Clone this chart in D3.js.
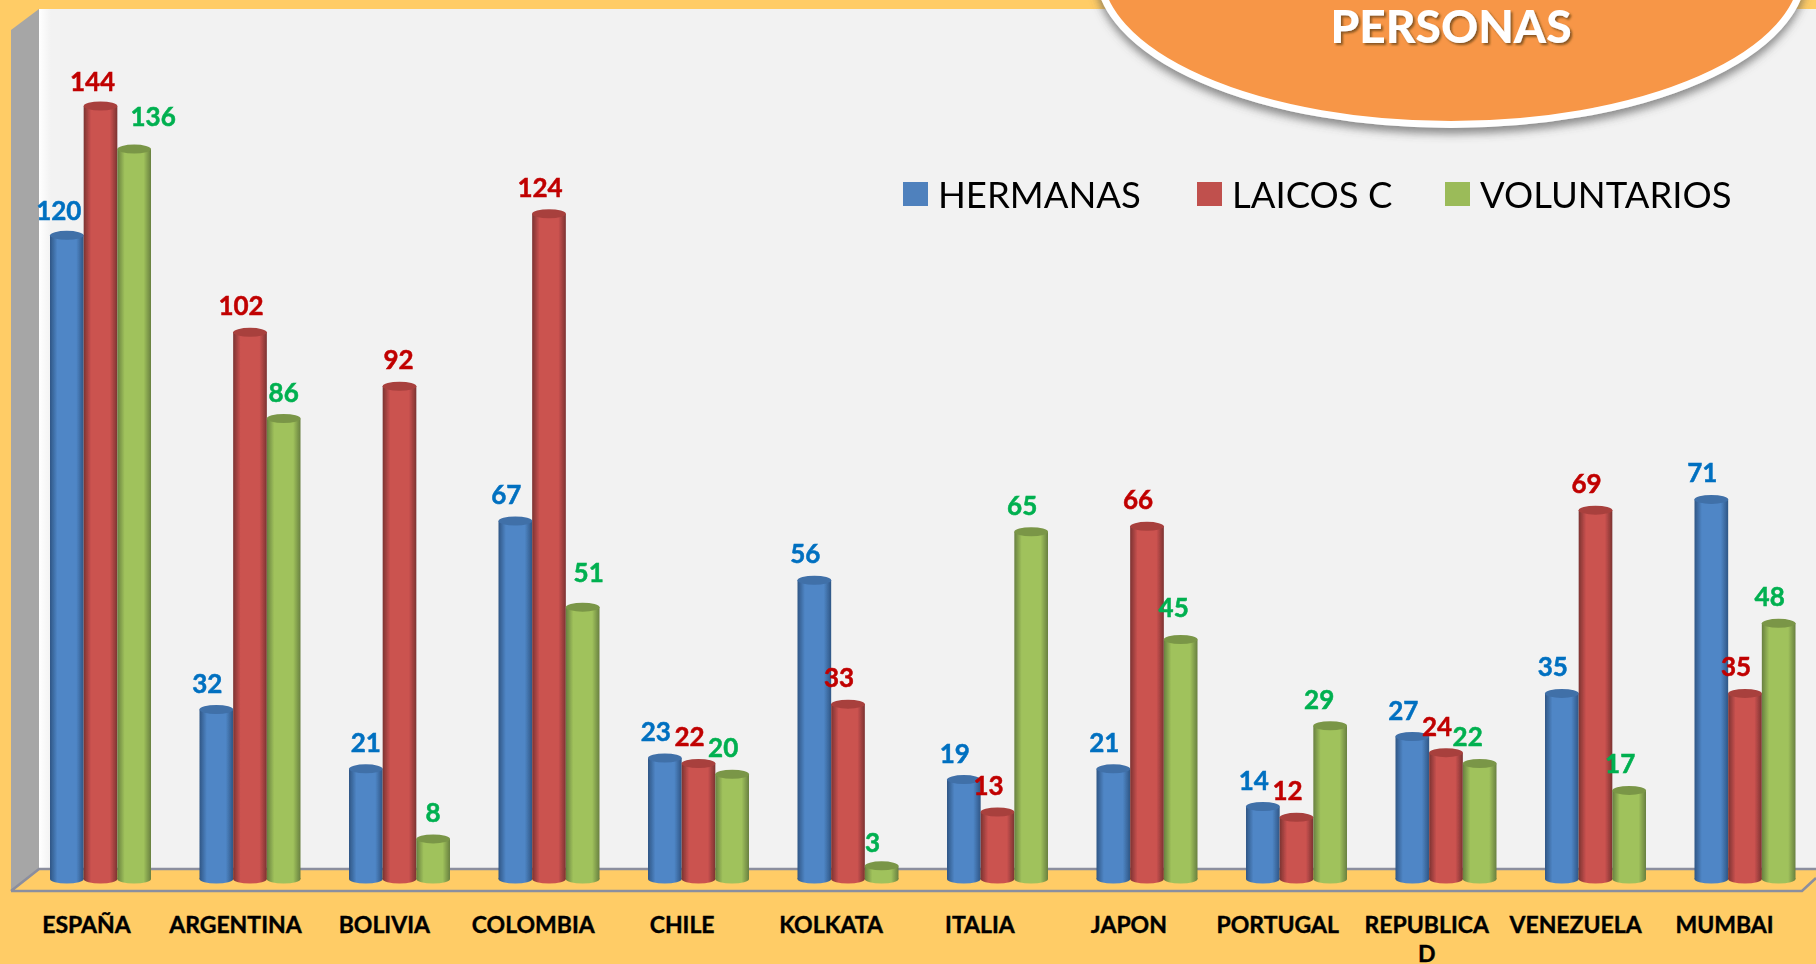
<!DOCTYPE html>
<html><head><meta charset="utf-8">
<script src="https://cdn.jsdelivr.net/npm/d3@7/dist/d3.min.js"></script>
<style>html,body{margin:0;padding:0;background:#FFCC66;overflow:hidden}svg{display:block}text{font-family:Lato,"Open Sans",sans-serif}</style>
</head><body><svg id="c" width="1816" height="964"></svg>
<script>
const categories = ["ESPAÑA","ARGENTINA","BOLIVIA","COLOMBIA","CHILE","KOLKATA","ITALIA","JAPON","PORTUGAL","REPUBLICA D","VENEZUELA","MUMBAI"];
const seriesNames = ["HERMANAS","LAICOS C","VOLUNTARIOS"];
const hermanas = [120,32,21,67,23,56,19,21,14,27,35,71];
const laicos = [144,102,92,124,22,33,13,66,12,24,69,35];
const voluntarios = [136,86,8,51,20,3,65,45,29,22,17,48];
const seriesValues = [hermanas, laicos, voluntarios];
const barPalette = [
  {edge:"#2f5685",mid:"#4f86c6",cap:"#3f6fa8",label:"#0070C0",swatch:"#4F81BD"},
  {edge:"#7c3331",mid:"#cb5250",cap:"#a8403d",label:"#C00000",swatch:"#C0504D"},
  {edge:"#688040",mid:"#a0c25c",cap:"#7a9647",label:"#00B050",swatch:"#9BBB59"}];
// hand-placed data labels: [series, category, dx, dy] departing from the default spot
const labelNudges = [[0,2,9,0],[1,2,8,0],[2,0,28,-6],[2,1,9,0],[2,2,9,0],[2,3,15,-8],[2,7,2,-6],[1,0,1,2],[0,0,1,2],[2,5,0,3],[2,8,-2,0],[2,9,-3,0]];

const svg = d3.select("#c");
const defs = svg.append("defs");
barPalette.forEach((p,i)=>{
  const g = defs.append("linearGradient").attr("id","bar"+i);
  [[0,p.edge],[.22,p.mid],[.5,p.mid],[.78,p.mid],[1,p.edge]].forEach(s=>g.append("stop").attr("offset",s[0]).attr("stop-color",s[1]));
});
const wg = defs.append("linearGradient").attr("id","wallGlow");
wg.append("stop").attr("offset",0).attr("stop-color","#ffffff");
wg.append("stop").attr("offset",1).attr("stop-color","#f2f2f2");
const sh = defs.append("filter").attr("id","oval").attr("x","-10%").attr("y","-10%").attr("width","120%").attr("height","125%");
sh.append("feDropShadow").attr("dx",0).attr("dy",6).attr("stdDeviation",4).attr("flood-color","#555").attr("flood-opacity",.65);
const ts = defs.append("filter").attr("id","txt");
ts.append("feDropShadow").attr("dx",2).attr("dy",2).attr("stdDeviation",1.2).attr("flood-color","#5a3a10").attr("flood-opacity",.7);
defs.append("filter").attr("id","soft").attr("x","-10%").attr("y","-5%").attr("width","120%").attr("height","110%")
  .append("feGaussianBlur").attr("stdDeviation",0.7);

// frame
svg.append("rect").attr("x",39).attr("y",9).attr("width",1777).attr("height",860).attr("fill","#f2f2f2");
svg.append("rect").attr("x",39).attr("y",9).attr("width",12).attr("height",860).attr("fill","url(#wallGlow)");
svg.append("polygon").attr("points","11,30 39,9 39,869 11,891").attr("fill","#a6a6a6");
svg.append("polygon").attr("points","11,891 39,869 1816,869 1816,878 1802,891").attr("fill","#FFCC66");
svg.append("path").attr("d","M11,891 L39,869 L1816,869 M11,891 L1802,891 L1816,878").attr("fill","none").attr("stroke","#8b8e9e").attr("stroke-width",2.6);

// scales
const y = d3.scaleLinear().domain([0,144]).range([882,106]);
const x0 = d3.scalePoint().domain(categories).range([100.5,1745]);
const x1 = d3.scaleBand().domain(d3.range(3)).range([-50.5,50.5]);
const xLabel = d3.scalePoint().domain(categories).range([86,1724]);
const capRy = 4.5;

const groups = svg.append("g").attr("filter","url(#soft)").selectAll("g").data(categories).join("g")
  .attr("transform",d=>`translate(${x0(d)},0)`);
seriesValues.forEach((vals,s)=>{
  const bw = x1.bandwidth(), gx = x1(s);
  const g = groups.append("g");
  g.append("rect").attr("x",gx).attr("width",bw)
    .attr("y",(d,i)=>y(vals[i])).attr("height",(d,i)=>y(0)-3-y(vals[i]))
    .attr("fill",`url(#bar${s})`);
  g.append("ellipse").attr("cx",gx+bw/2).attr("cy",y(0)-3).attr("rx",bw/2).attr("ry",capRy).attr("fill",`url(#bar${s})`);
  g.append("ellipse").attr("cx",gx+bw/2).attr("cy",(d,i)=>y(vals[i])).attr("rx",bw/2).attr("ry",capRy).attr("fill",barPalette[s].cap);
});

// data labels
const labels = svg.append("g").attr("font-weight",700).attr("font-size",26).attr("text-anchor","middle").attr("stroke-width",.5);
seriesValues.forEach((vals,s)=>{
  categories.forEach((c,i)=>{
    const n = labelNudges.find(k=>k[0]===s&&k[1]===i) || [s,i,0,0];
    labels.append("text").attr("x",x0(c)+x1(s)+x1.bandwidth()/2-9+n[2]).attr("y",y(vals[i])-17+n[3])
      .attr("fill",barPalette[s].label).attr("stroke",barPalette[s].label).text(vals[i]);
  });
});

// category axis
const axis = svg.append("g").attr("transform","translate(0,933)").call(d3.axisBottom(xLabel).tickSize(0).tickPadding(0).tickFormat(""));
axis.select(".domain").remove();
axis.selectAll(".tick text").remove();
axis.selectAll(".tick").each(function(d){
  const parts = d==="REPUBLICA D" ? ["REPUBLICA","D"] : [d];
  const t = d3.select(this).append("text").attr("text-anchor","middle").attr("font-size",23).attr("font-weight",700).attr("fill","#000").attr("stroke","#000").attr("stroke-width",.4);
  parts.forEach((p,i)=>t.append("tspan").attr("x",0).attr("y",i*29).text(p));
});

// oval title
svg.append("ellipse").attr("cx",1451).attr("cy",-30).attr("rx",352.5).attr("ry",154.5).attr("fill","#F79646").attr("stroke","#fff").attr("stroke-width",7).attr("filter","url(#oval)");
svg.append("text").attr("x",1451).attr("y",43).attr("text-anchor","middle").attr("font-size",46).attr("font-weight",900).attr("fill","#fff").attr("filter","url(#txt)").text("PERSONAS");

// legend
const legendX = [903,1197,1445];
const leg = svg.append("g").selectAll("g").data(seriesNames).join("g").attr("transform",(d,i)=>`translate(${legendX[i]},0)`);
leg.append("rect").attr("y",182).attr("width",25).attr("height",24).attr("fill",(d,i)=>barPalette[i].swatch);
leg.append("text").attr("x",35).attr("y",208).attr("font-size",36.5).attr("fill","#000").text(d=>d);
</script></body></html>
